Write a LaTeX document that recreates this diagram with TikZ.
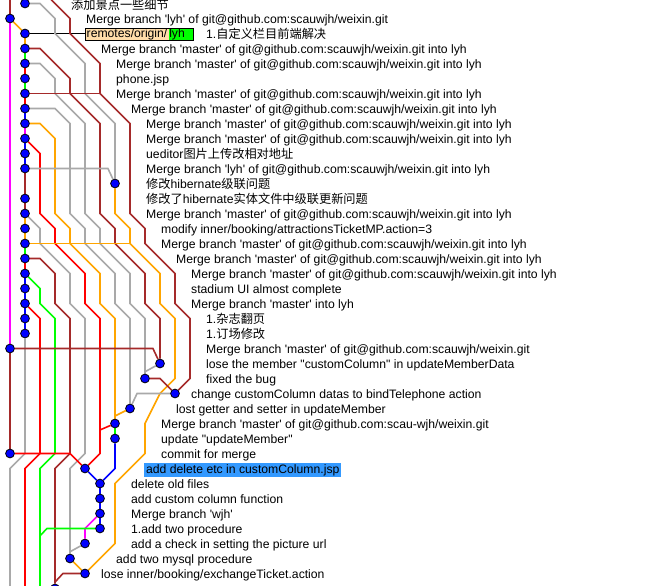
\documentclass[tikz,border=0pt]{standalone}
\usepackage{fontspec}
\usepackage{xcolor}
\usetikzlibrary{positioning,backgrounds}
\newfontfamily\gitfont{Liberation Sans}
\newfontfamily\cjk{Noto Sans CJK SC}
\definecolor{gitbrown}{HTML}{A52A2A}
\definecolor{gitgray}{HTML}{A9A9A9}
\definecolor{gitorange}{HTML}{FFA500}
\definecolor{gitred}{HTML}{FF0000}
\definecolor{gitgreen}{HTML}{00FF00}
\definecolor{gitblue}{HTML}{0000FF}
\definecolor{gitmagenta}{HTML}{FF00FF}
\definecolor{refpeach}{HTML}{FFDDAA}
\definecolor{hlblue}{HTML}{3399FF}
\newcommand\mergemaster{Merge branch 'master' of git@github.com:scauwjh/weixin.git into lyh}
\tikzset{
  commit/.style={circle, draw=black, line width=0.8pt, fill=gitblue, inner sep=0pt, minimum size=8.8pt},
  msg/.style={anchor=west, yshift=-1.5pt, inner xsep=1pt, inner ysep=1pt, text height=9pt, text depth=2.5pt,
    font=\gitfont\fontsize{12.2pt}{14pt}\selectfont},
  refbox/.style={inner ysep=0.2pt, text height=9pt, text depth=2.3pt,
    font=\gitfont\fontsize{12.2pt}{14pt}\selectfont},
  edge/.style={line width=1.6pt},
}
\begin{document}
\begin{tikzpicture}[x=15pt,y=-15pt]
\useasboundingbox (-10pt,3.5pt) rectangle (652pt,-582.5pt);

% commits: lane/row
\foreach \l/\r [count=\n from 0] in {1/0,0/1,1/2,1/3,1/4,1/5,1/6,1/7,1/8,1/9,1/10,1/11,7/12,1/13,1/14,1/15,1/16,1/17,1/18,1/19,
  1/20,1/21,1/22,0/23,10/24,9/25,11/26,8/27,7/28,7/29,0/30,5/31,6/32,6/33,6/34,6/35,5/36,4/37,5/38,3/39}
  \node[commit] (c\n) at (\l,\r) {};
\coordinate (topa) at (0,-0.3);
\coordinate (topb) at (1,-0.3);
\coordinate (topc) at (2.75,-0.25);
\coordinate (bota) at (0,38.9);
\coordinate (botb) at (1,38.9);
\coordinate (botc) at (2,38.9);

% messages
\node[msg, yshift=-1.2pt] (t0) at (4,0) {\cjk 添加景点一些细节};
\node[msg] (t1) at (5,1) {Merge branch 'lyh' of git@github.com:scauwjh/weixin.git};
\node[refbox, anchor=west, yshift=-0.85pt, fill=refpeach, inner xsep=1.5pt] (remote) at (5,2) {remotes/origin/};
\node[refbox, fill=gitgreen, inner xsep=0pt, right=0pt of remote] (lyhref) {lyh\kern8.5pt};
\draw (remote.north west) rectangle (lyhref.south east);
\node[msg] (t2) at (13,2) {1.{\cjk 自定义栏目前端解决}};
\node[msg] (t3) at (6,3) {\mergemaster};
\node[msg] (t4) at (7,4) {\mergemaster};
\node[msg] (t5) at (7,5) {phone.jsp};
\node[msg] (t6) at (7,6) {\mergemaster};
\node[msg] (t7) at (8,7) {\mergemaster};
\node[msg] (t8) at (9,8) {\mergemaster};
\node[msg] (t9) at (9,9) {\mergemaster};
\node[msg] (t10) at (9,10) {ueditor{\cjk 图片上传改相对地址}};
\node[msg] (t11) at (9,11) {Merge branch 'lyh' of git@github.com:scauwjh/weixin.git into lyh};
\node[msg] (t12) at (9,12) {{\cjk 修改}hibernate{\cjk 级联问题}};
\node[msg] (t13) at (9,13) {{\cjk 修改了}hibernate{\cjk 实体文件中级联更新问题}};
\node[msg] (t14) at (9,14) {\mergemaster};
\node[msg] (t15) at (10,15) {modify inner/booking/attractionsTicketMP.action=3};
\node[msg] (t16) at (10,16) {\mergemaster};
\node[msg] (t17) at (11,17) {\mergemaster};
\node[msg] (t18) at (12,18) {\mergemaster};
\node[msg] (t19) at (12,19) {stadium UI almost complete};
\node[msg] (t20) at (12,20) {Merge branch 'master' into lyh};
\node[msg] (t21) at (13,21) {1.{\cjk 杂志翻页}};
\node[msg] (t22) at (13,22) {1.{\cjk 订场修改}};
\node[msg] (t23) at (13,23) {Merge branch 'master' of git@github.com:scauwjh/weixin.git};
\node[msg] (t24) at (13,24) {lose the member "customColumn" in updateMemberData};
\node[msg] (t25) at (13,25) {fixed the bug};
\node[msg] (t26) at (12,26) {change customColumn datas to bindTelephone action};
\node[msg] (t27) at (11,27) {lost getter and setter in updateMember};
\node[msg] (t28) at (10,28) {Merge branch 'master' of git@github.com:scau-wjh/weixin.git};
\node[msg] (t29) at (10,29) {update "updateMember"};
\node[msg] (t30) at (10,30) {commit for merge};
\node[msg, fill=hlblue, inner xsep=2pt] (t31) at (8.93,31) {add delete etc in customColumn.jsp};
\node[msg] (t32) at (8,32) {delete old files};
\node[msg] (t33) at (8,33) {add custom column function};
\node[msg] (t34) at (8,34) {Merge branch 'wjh'};
\node[msg] (t35) at (8,35) {1.add two procedure};
\node[msg] (t36) at (8,36) {add a check in setting the picture url};
\node[msg] (t37) at (7,37) {add two mysql procedure};
\node[msg] (t38) at (6,38) {lose inner/booking/exchangeTicket.action};

\begin{scope}[on background layer]
\fill[white] (-10pt,3.5pt) rectangle (652pt,-582.5pt);
\draw[edge,black] (c2) -- (remote.west |- c2);
\draw[edge,gitbrown] (topa) -- (c1);
\draw[edge,gitblue] (topb) -- (c0);
\draw[edge,gitorange] (c1) -- (c2);
\draw[edge,gitmagenta] (c1) -- (c23);
% first parents down lane 1 and lane 6
\foreach \a/\b/\col in {2/3/gitorange,3/4/gitgreen,4/5/gitred,5/6/gitgreen,6/7/gitred,7/8/gitblue,8/9/gitmagenta,
  9/10/gitblue,10/11/gitblue,11/13/gitbrown,13/14/gitbrown,14/15/gitorange,15/16/gitorange,16/17/gitgreen,
  17/18/gitred,18/19/gitblue,19/20/gitblue,20/21/gitblue,21/22/gitblue,32/33/gitblue,33/34/gitblue,34/35/gitblue}
  \draw[edge,color=\col] (c\a) -- (c\b);
% long lines
\draw[edge,gitbrown] (topc) -- (3,0) -- (4,1) -- (4,2) -- (5,3) -- (6,4) -- (6,6) -- (7,7) -- (8,8) -- (8,14) -- (9,15)
  -- (9,16) -- (11,18) -- (11,20) -- (12,21) -- (12,25) -- (c26);
\draw[edge,gitgray] (c0) -- (2,0) -- (3,1) -- (3,2) -- (4,3) -- (5,4) -- (5,6) -- (6,7) -- (7,8) -- (c12);
\draw[edge,gitbrown] (c3) -- (2,3) -- (3,4) -- (4,5) -- (4,6) -- (5,7) -- (6,8) -- (6,14) -- (7,15) -- (7,16) -- (9,18)
  -- (9,20) -- (10,21) -- (c24);
\draw[edge,gitgray] (c4) -- (2,4) -- (3,5) -- (3,6) -- (4,7) -- (5,8) -- (5,14) -- (6,15) -- (6,16) -- (8,18) -- (8,20)
  -- (9,21) -- (c25);
\draw[edge,gitbrown] (c6) -- (6,6);
\draw[edge,gitgray] (c7) -- (3,7) -- (4,8) -- (4,14) -- (5,15) -- (5,16) -- (7,18) -- (7,20) -- (8,21) -- (c27);
\draw[edge,gitorange] (c8) -- (2,8) -- (3,9) -- (3,14) -- (4,15) -- (4,16) -- (6,18) -- (6,20) -- (7,21) -- (c28);
\draw[edge,gitred] (c9) -- (2,10) -- (2,14) -- (3,15) -- (3,16) -- (5,18) -- (5,20) -- (6,21) -- (6,30) -- (c31);
\draw[edge,gitgray] (c11) -- (6.53,11) -- (c12);
\draw[edge,gitorange] (c12) -- (7,14) -- (8,15) -- (8,16) -- (10,18) -- (10,20) -- (11,21) -- (11,25) -- (10,26)
  -- (9,28) -- (9,30) -- (7,32) -- (7,36) -- (c38);
\draw[edge,gitgray] (c14) -- (2,15) -- (2,16) -- (4,18) -- (4,20) -- (5,21) -- (5,30) -- (4,31) -- (c37);
\draw[edge,gitorange] (c16) -- (8,16);
\draw[edge,gitbrown] (c17) -- (2,17) -- (3,18) -- (3,20) -- (4,21) -- (4,30) -- (3,31) -- (c39);
\draw[edge,gitgreen] (c18) -- (2,19) -- (2,20) -- (3,21) -- (3,30) -- (2,31) -- (botc);
\draw[edge,gitred] (c20) -- (2,21) -- (2,30) -- (1,31) -- (botb);
\draw[edge,gitgray] (c22) -- (1,30) -- (0,31) -- (bota);
% short links
\draw[edge,gitbrown] (c23) -- (c30);
\draw[edge,gitbrown] (c23) -- (9.53,23) -- (c24);
\draw[edge,gitgray] (c24) -- (9,24.55) -- (c25);
\draw[edge,gitbrown] (c25) -- (10,25) -- (c26);
\draw[edge,gitgray] (c26) -- (8.47,26) -- (c27);
\draw[edge,gitorange] (c27) -- (7,27.5) -- (c28);
\draw[edge,gitgreen] (c28) -- (c29);
\draw[edge,gitred] (c28) -- (6,28.43);
\draw[edge,gitblue] (c29) -- (7,31) -- (c32);
\draw[edge,gitred] (c30) -- (4,30) -- (c31);
\draw[edge,gitblue] (c31) -- (c32);
\draw[edge,gitmagenta] (c34) -- (5,35) -- (c36);
\draw[edge,gitgreen] (c35) -- (2.47,35) -- (2,35.48);
\draw[edge,gitgray] (c36) -- (4,36.55);
\draw[edge,gitorange] (c37) -- (c38);
\draw[edge,gitbrown] (c38) -- (3.53,38) -- (3,38.57);
\end{scope}
\end{tikzpicture}
\end{document}
